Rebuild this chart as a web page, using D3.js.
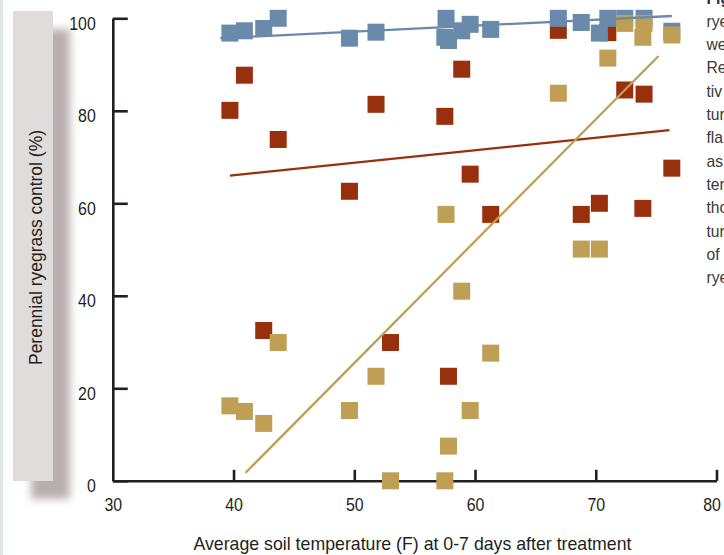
<!DOCTYPE html>
<html>
<head>
<meta charset="utf-8">
<script src="https://cdn.jsdelivr.net/npm/d3@7"></script>
<style>
  body { margin: 0; background: #fff; }
  svg { display: block; }
  .narrow { font-family: 'Liberation Sans Narrow', 'Arial Narrow', 'Liberation Sans', Arial, sans-serif; }
</style>
</head>
<body>
<div id="chart"></div>
<script>
// DATA
// soil temperature (F) for each plot, and control (%) for each treatment (null = not visible)
var soilTemp = [39.7, 40.9, 42.5, 43.7, 49.6, 51.8, 53.0, 57.5, 57.6, 57.8, 58.9, 59.6, 61.3, 66.9, 68.8, 70.3, 71.0, 72.4, 73.9, 74.0, 76.3];
var controlRed = [80.1, 87.7, 32.5, 73.8, 62.6, 81.4, 29.9, 78.8, null, 22.6, 89.0, 66.3, 57.6, 97.4, 57.6, 60.0, 96.9, 84.5, 58.9, 83.6, 67.6];
var controlBlue = [96.8, 97.3, 97.8, 100, 95.7, 97.0, null, 95.9, 100, 95.2, 97.3, 98.7, 97.6, 100, 99.1, 96.8, 100, 100, null, 100, 97.2];
var controlTan = [16.2, 15.0, 12.4, 29.9, 15.2, 22.6, 0, 0, 57.6, 7.5, 41.0, 15.2, 27.6, 83.8, 50.1, 50.1, 91.4, 98.9, 95.9, 98.9, 96.4];

// regression line end points [temp, control]
var fitRed = [[39.7, 66.0], [76.1, 75.8]];
var fitTan = [[41.0, 1.75], [75.2, 91.85]];
var fitBlue = [[38.9, 95.7], [76.3, 100.5]];

var xTicks = [30, 40, 50, 60, 70, 80];
var yTicks = [0, 20, 40, 60, 80, 100];

// caption fragments cut off at the right edge
var captionLines = ["rye", "we", "Re", "tiv", "tur", "fla", "as", "ter", "tho", "tur", "of", "rye"];

// SET UP
var width = 724, height = 555;
var axisColor = "#231f20";
var colors = {red: "#99300d", blue: "#6a8aac", tan: "#bf9f56"};

var svg = d3.select("#chart").append("svg")
    .attr("width", width)
    .attr("height", height);

// squeeze a text horizontally, to look like the condensed face of the original
function condense(sel, k) {
    sel.each(function() {
        var w = this.getComputedTextLength();
        d3.select(this)
            .attr("textLength", w * k)
            .attr("lengthAdjust", "spacingAndGlyphs");
    });
}

var defs = svg.append("defs");
defs.append("filter")
    .attr("id", "shadow")
    .attr("x", "-50%").attr("y", "-10%")
    .attr("width", "200%").attr("height", "120%")
    .append("feGaussianBlur")
    .attr("stdDeviation", 4);

// thin strip on the left edge
svg.append("rect")
    .attr("x", 0).attr("y", 0)
    .attr("width", 3).attr("height", height)
    .attr("fill", "#dfe7e2");

// Y label box with its shadow
svg.append("rect")
    .attr("x", 31).attr("y", 29)
    .attr("width", 39).attr("height", 470)
    .attr("fill", "#b9afaf")
    .attr("filter", "url(#shadow)");
svg.append("rect")
    .attr("x", 13).attr("y", 11)
    .attr("width", 40).attr("height", 470)
    .attr("fill", "#e0dcdc");

// Scales
var xScale = d3.scaleLinear().domain([30, 80]).range([112.8, 716.5]);
var yScale = d3.scaleLinear().domain([0, 100]).range([480.8, 18.3]);

// Axes
var yAxis = svg.append("g")
    .attr("transform", "translate(" + xScale(30) + ",0)")
    .call(d3.axisLeft(yScale).tickValues(yTicks).tickSize(-15).tickSizeOuter(0).tickPadding(17));

var xAxis = svg.append("g")
    .attr("transform", "translate(0," + yScale(0) + ")")
    .call(d3.axisBottom(xScale).tickValues(xTicks).tickSize(-11).tickSizeOuter(0));

[yAxis, xAxis].forEach(function(ax) {
    ax.selectAll("path, line")
        .attr("stroke", axisColor)
        .attr("stroke-width", 2.6);
    ax.selectAll("text")
        .attr("class", "narrow")
        .attr("fill", axisColor)
        .style("font-size", "18.5px")
        .call(condense, 0.86);
});
yAxis.selectAll("text").attr("dy", "0.6em");
xAxis.selectAll("text").attr("y", 30).attr("dy", 0);
xAxis.selectAll(".tick").filter(function(d) { return d === 30; }).select("line").remove();
// the 80 label sits a little left of its tick
xAxis.selectAll(".tick").filter(function(d) { return d === 80; }).select("text").attr("x", -5);

// Points: red first, then blue, then tan on top
function drawSquares(values, color) {
    var pts = soilTemp.map(function(t, i) { return {t: t, v: values[i]}; })
        .filter(function(d) { return d.v !== null; });
    svg.append("g")
        .selectAll("rect")
        .data(pts)
        .join("rect")
        .attr("x", function(d) { return xScale(d.t) - 8.5; })
        .attr("y", function(d) { return yScale(d.v) - 8.5; })
        .attr("width", 17)
        .attr("height", 17)
        .attr("fill", color);
}
drawSquares(controlRed, colors.red);
drawSquares(controlBlue, colors.blue);
drawSquares(controlTan, colors.tan);

// Fit lines
var line = d3.line()
    .x(function(d) { return xScale(d[0]); })
    .y(function(d) { return yScale(d[1]); });
[[fitRed, colors.red], [fitTan, colors.tan], [fitBlue, colors.blue]].forEach(function(f) {
    svg.append("path")
        .attr("d", line(f[0]))
        .attr("fill", "none")
        .attr("stroke", f[1])
        .attr("stroke-width", 2.3);
});

// Axis titles
svg.append("text")
    .attr("class", "narrow")
    .attr("transform", "translate(42,247.5) rotate(-90)")
    .attr("text-anchor", "middle")
    .attr("textLength", 235)
    .attr("lengthAdjust", "spacingAndGlyphs")
    .attr("fill", axisColor)
    .style("font-size", "19px")
    .text("Perennial ryegrass control (%)");

svg.append("text")
    .attr("class", "narrow")
    .attr("x", 412.5)
    .attr("y", 550)
    .attr("text-anchor", "middle")
    .attr("textLength", 438)
    .attr("lengthAdjust", "spacingAndGlyphs")
    .attr("fill", axisColor)
    .style("font-size", "19px")
    .text("Average soil temperature (F) at 0-7 days after treatment");

// Caption cut by the right edge
svg.append("text")
    .attr("class", "narrow")
    .attr("x", 706.5)
    .attr("y", 4)
    .attr("fill", "#2b2b2b")
    .style("font-size", "17px")
    .style("font-weight", "bold")
    .text("Fig")
    .call(condense, 0.92);
svg.append("g")
    .selectAll("text")
    .data(captionLines)
    .join("text")
    .attr("class", "narrow")
    .attr("x", 706.5)
    .attr("y", function(d, i) { return 26.8 + i * 23.3; })
    .attr("fill", "#3a3a3a")
    .style("font-size", "17px")
    .text(function(d) { return d; })
    .call(condense, 0.92);
</script>
</body>
</html>
